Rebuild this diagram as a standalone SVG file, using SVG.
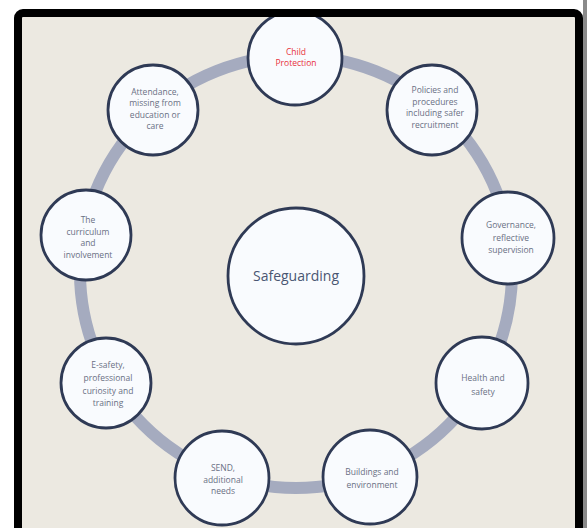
<svg xmlns="http://www.w3.org/2000/svg" width="587" height="528" viewBox="0 0 587 528">
<style>
.node{fill:#f9fbfe;stroke:#2f3a55;stroke-width:2.8}
.t{font-family:"Open Sans","Liberation Sans",sans-serif;font-size:8.5px;fill:#6a7084;text-anchor:middle}
.red{fill:#e8303c}
.big{font-family:"Open Sans","Liberation Sans",sans-serif;font-size:14px;fill:#4a5672;text-anchor:middle}
</style>
<defs>
<clipPath id="inner"><rect x="18" y="13" width="561" height="530"/></clipPath>
</defs>
<rect x="0" y="0" width="587" height="528" fill="#ffffff"/>
<rect x="583" y="0" width="4" height="528" fill="#8a8a8a"/>
<rect x="18" y="13" width="561" height="530" fill="#ece9e1"/>
<g clip-path="url(#inner)">
<g id="connectors">
<circle cx="296" cy="272" r="216" fill="none" stroke="#a5abbf" stroke-width="12"/>
</g>
<g id="center">
<circle class="node" cx="296" cy="276" r="68"/>
<text class="big" x="296" y="281">Safeguarding</text>
</g>
<g id="child-protection">
<circle class="node" cx="295" cy="58" r="47"/>
<text class="t red" x="296" y="55">Child</text>
<text class="t red" x="296" y="66">Protection</text>
</g>
<g id="policies">
<circle class="node" cx="432" cy="110" r="45"/>
<text class="t" x="435" y="93">Policies and</text>
<text class="t" x="435" y="105">procedures</text>
<text class="t" x="435" y="116">including safer</text>
<text class="t" x="435" y="128">recruitment</text>
</g>
<g id="governance">
<circle class="node" cx="508" cy="238" r="46"/>
<text class="t" x="511" y="228">Governance,</text>
<text class="t" x="511" y="241">reflective</text>
<text class="t" x="511" y="253">supervision</text>
</g>
<g id="health">
<circle class="node" cx="482" cy="383" r="46"/>
<text class="t" x="483" y="381">Health and</text>
<text class="t" x="483" y="395">safety</text>
</g>
<g id="buildings">
<circle class="node" cx="370" cy="477" r="47"/>
<text class="t" x="372" y="475">Buildings and</text>
<text class="t" x="372" y="488">environment</text>
</g>
<g id="send">
<circle class="node" cx="222" cy="478" r="47"/>
<text class="t" x="223" y="471">SEND,</text>
<text class="t" x="223" y="483">additional</text>
<text class="t" x="223" y="494">needs</text>
</g>
<g id="esafety">
<circle class="node" cx="106" cy="383" r="45"/>
<text class="t" x="108" y="368">E-safety,</text>
<text class="t" x="108" y="381">professional</text>
<text class="t" x="108" y="394">curiosity and</text>
<text class="t" x="108" y="406">training</text>
</g>
<g id="curriculum">
<circle class="node" cx="86" cy="235" r="45"/>
<text class="t" x="88" y="223">The</text>
<text class="t" x="88" y="235">curriculum</text>
<text class="t" x="88" y="246">and</text>
<text class="t" x="88" y="258">involvement</text>
</g>
<g id="attendance">
<circle class="node" cx="153" cy="110" r="45"/>
<text class="t" x="155" y="95">Attendance,</text>
<text class="t" x="155" y="106">missing from</text>
<text class="t" x="155" y="118">education or</text>
<text class="t" x="155" y="129">care</text>
</g>
</g>
<rect x="18" y="13" width="561" height="530" rx="5" fill="none" stroke="#000" stroke-width="8"/>
</svg>
